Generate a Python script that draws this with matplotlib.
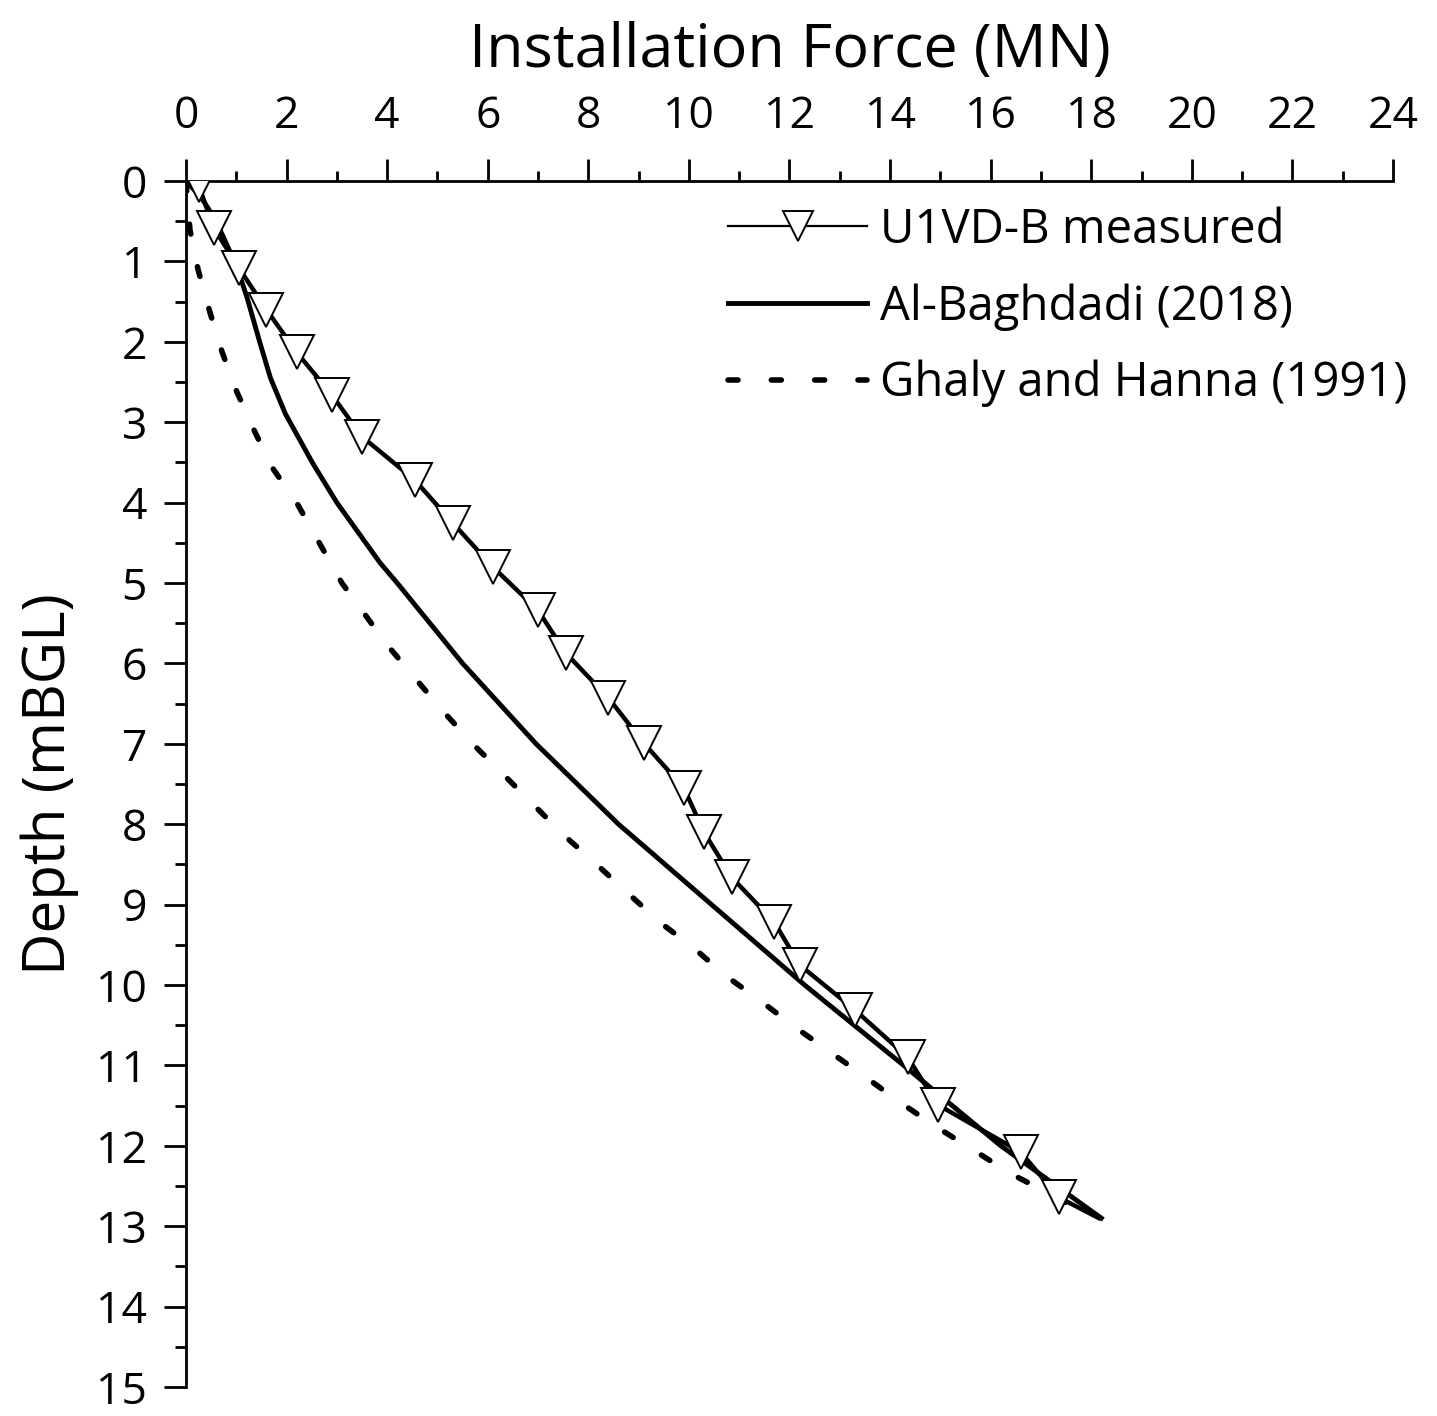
import matplotlib
matplotlib.use("Agg")
import matplotlib.pyplot as plt
from matplotlib.ticker import MultipleLocator

plt.rcParams['font.family'] = ['Open Sans', 'DejaVu Sans']

# measured installation force (marker positions), MN vs depth (m)
meas_force = [0.0, 0.25, 0.55, 1.05, 1.6, 2.2, 2.9, 3.5, 4.55, 5.3, 6.1, 7.0, 7.55,
              8.4, 9.1, 9.9, 10.3, 10.85, 11.7, 12.2, 13.3, 14.35, 14.95, 16.6,
              17.35, 18.15]
meas_depth = [0.0, 0.05, 0.58, 1.08, 1.60, 2.13, 2.66, 3.18, 3.72, 4.25, 4.80, 5.34,
              5.87, 6.43, 6.99, 7.55, 8.10, 8.66, 9.22, 9.75, 10.31, 10.90, 11.49,
              12.08, 12.64, 12.90]

# Al-Baghdadi (2018) prediction
ab_force = [0.0, 0.3, 0.6, 1.0, 1.21, 1.47, 1.68, 1.98, 2.52, 3.0, 3.86, 4.2, 5.5,
            6.96, 8.6, 10.45, 12.3, 14.27, 16.2, 18.2]
ab_depth = [0.0, 0.2, 0.5, 1.05, 1.44, 2.01, 2.45, 2.90, 3.51, 4.0, 4.75, 5.0, 6.0,
            7.0, 8.0, 9.0, 10.0, 11.0, 12.0, 12.9]

# Ghaly and Hanna (1991) prediction
gh_force = [0.0, 0.08, 0.24, 0.48, 0.72, 1.01, 1.37, 1.71, 2.2, 3.1, 4.0, 4.55, 5.09,
            5.7, 6.5, 7.5, 8.13, 8.79, 9.42, 10.08, 10.72, 11.45, 12.1, 12.8, 13.5,
            14.2, 14.93, 15.65, 16.38, 17.97]
gh_depth = [0.0, 0.61, 1.1, 1.64, 2.13, 2.62, 3.12, 3.56, 4.0, 5.0, 5.77, 6.18, 6.58,
            7.0, 7.5, 8.13, 8.48, 8.86, 9.22, 9.53, 9.88, 10.21, 10.52, 10.83, 11.14,
            11.46, 11.77, 12.05, 12.34, 12.86]

fig = plt.figure(figsize=(14.37, 14.16), dpi=100)
ax = fig.add_axes([0.1294, 0.0205, 0.84, 0.8517])

ax.plot(meas_force, meas_depth, color='black', lw=3.2,
        marker='v', markersize=25, markerfacecolor='white', markeredgecolor='black',
        markeredgewidth=1.4, markevery=list(range(1, len(meas_force) - 1)),
        label='U1VD-B measured', zorder=3)
ax.plot(ab_force, ab_depth, color='black', lw=3.5, label='Al-Baghdadi (2018)', zorder=2)
ax.plot(gh_force, gh_depth, color='black', lw=4, dashes=(1.8, 6.0),
        dash_capstyle='round', label='Ghaly and Hanna (1991)', zorder=2)

ax.set_xlim(0, 24)
ax.set_ylim(15, 0)
ax.xaxis.tick_top()
ax.xaxis.set_label_position('top')
ax.xaxis.set_major_locator(MultipleLocator(2))
ax.xaxis.set_minor_locator(MultipleLocator(1))
ax.yaxis.set_major_locator(MultipleLocator(1))
ax.yaxis.set_minor_locator(MultipleLocator(0.5))

for s in ['right', 'bottom']:
    ax.spines[s].set_visible(False)
for s in ['left', 'top']:
    ax.spines[s].set_linewidth(2)

ax.tick_params(axis='x', which='major', direction='out', length=16, width=2,
               labelsize=32, pad=14)
ax.tick_params(axis='x', which='minor', direction='out', length=7, width=2)
ax.tick_params(axis='y', which='major', direction='out', length=16, width=2,
               labelsize=32, pad=12)
ax.tick_params(axis='y', which='minor', direction='out', length=8, width=2)

ax.set_xlabel('Installation Force (MN)', fontsize=44, labelpad=20)
ax.set_ylabel('Depth (mBGL)', fontsize=42, labelpad=12)

leg = ax.legend(loc='upper left', bbox_to_anchor=(0.449, 0.979), frameon=False,
                fontsize=34, handlelength=2.95, handletextpad=0.28,
                labelspacing=0.62, borderaxespad=0, borderpad=0, markerscale=0.85)
leg.get_lines()[0].set_linewidth(1.6)

fig.savefig('out.png', dpi=100)
